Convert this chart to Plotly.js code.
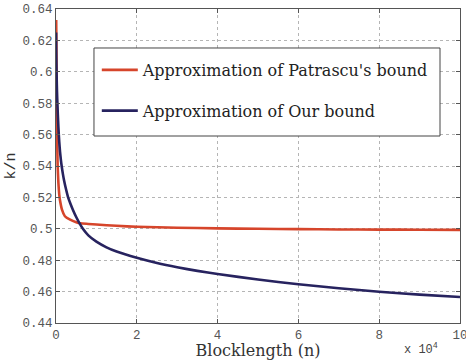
<!DOCTYPE html>
<html>
<head>
<meta charset="utf-8">
<script src="https://cdn.plot.ly/plotly-3.0.1.min.js"></script>
<style>html,body{margin:0;padding:0;background:#fff;}#chart{width:466px;height:360px;}</style>
</head>
<body>
<div id="chart"></div>
<script>
// x values in units of 10^4
var redX = [0.005, 0.01, 0.015, 0.02, 0.03, 0.04, 0.06, 0.08, 0.1, 0.15, 0.22, 0.35, 0.5, 0.6, 0.8, 1, 1.5, 2, 3, 4, 5, 6, 7, 8, 9, 10];
var redY = [0.633, 0.615, 0.595, 0.578, 0.556, 0.541, 0.529, 0.522, 0.518, 0.512, 0.508, 0.5058, 0.5042, 0.5035, 0.5031, 0.5027, 0.5019, 0.5013, 0.5007, 0.5003, 0.5, 0.4998, 0.4996, 0.4995, 0.4994, 0.4993];

var blueX = [0.002, 0.005, 0.01, 0.02, 0.03, 0.045, 0.06, 0.08, 0.1, 0.12, 0.14, 0.17, 0.2, 0.25, 0.3, 0.36, 0.42, 0.5, 0.58, 0.67, 0.8, 1, 1.25, 1.5, 2, 2.5, 3, 3.5, 4, 5, 6, 7, 8, 9, 10];
var blueY = [0.625, 0.614, 0.605, 0.592, 0.583, 0.573, 0.5645, 0.5555, 0.549, 0.544, 0.54, 0.535, 0.5308, 0.525, 0.52, 0.5158, 0.512, 0.5075, 0.5036, 0.4998, 0.4958, 0.4918, 0.4882, 0.4855, 0.4815, 0.4782, 0.4755, 0.4732, 0.4712, 0.4677, 0.4647, 0.4621, 0.4599, 0.4581, 0.4566];

var seriesNames = ["Approximation of Patrascu's bound", "Approximation of Our bound"];
var xTicks = [0, 2, 4, 6, 8, 10];
var xTickText = ["0", "2", "4", "6", "8", "10"];
var yTicks = [0.44, 0.46, 0.48, 0.5, 0.52, 0.54, 0.56, 0.58, 0.6, 0.62, 0.64];
var yTickText = ["0.44", "0.46", "0.48", "0.5", "0.52", "0.54", "0.56", "0.58", "0.6", "0.62", "0.64"];

var MONO = 'Liberation Mono';
var SERIF = 'DejaVu Serif';

var traces = [
  {x: redX, y: redY, type: 'scatter', mode: 'lines', name: seriesNames[0], legendgroup: 'a',
   line: {color: '#d6452b', width: 2.6, shape: 'spline', smoothing: 0.6}},
  {x: blueX, y: blueY, type: 'scatter', mode: 'lines', name: seriesNames[1], legendgroup: 'b',
   line: {color: '#27235f', width: 2.6, shape: 'spline', smoothing: 0.6}}
];

var tickFont = {family: MONO, size: 12.5, color: '#555'};
var axisCommon = {
  showline: true, linecolor: '#555', linewidth: 1, mirror: 'ticks',
  ticks: 'inside', ticklen: 4, tickcolor: '#555', tickwidth: 1,
  showgrid: true, gridcolor: '#b5b5b5', gridwidth: 1, griddash: 'dot',
  zeroline: false, tickfont: tickFont, tickmode: 'array', ticklabeloverflow: 'allow'
};

var layout = {
  width: 466, height: 360,
  margin: {l: 56, r: 6, t: 9, b: 37},
  paper_bgcolor: '#fff', plot_bgcolor: '#fff',
  showlegend: true,
  xaxis: Object.assign({}, axisCommon, {
    range: [0, 10], tickvals: xTicks, ticktext: xTickText,
    title: {text: 'Blocklength (n)', font: {family: SERIF, size: 16, color: '#333'}, standoff: 1}
  }),
  yaxis: Object.assign({}, axisCommon, {
    range: [0.44, 0.64], tickvals: yTicks, ticktext: yTickText,
    title: {text: 'k/n', font: {family: MONO, size: 15, color: '#333'}, standoff: 3}
  }),
  shapes: [{
    type: 'rect', xref: 'paper', yref: 'paper', layer: 'above',
    x0: 0.094, x1: 0.9505, y0: 0.5955, y1: 0.8758,
    fillcolor: '#fff', line: {color: '#444', width: 1}
  }],
  legend: {
    x: 0.101, y: 0.86, xanchor: 'left', yanchor: 'top',
    bgcolor: 'rgba(0,0,0,0)', borderwidth: 0,
    font: {family: SERIF, size: 16, color: '#222'},
    traceorder: 'grouped', tracegroupgap: 17, itemwidth: 36
  },
  annotations: [{
    xref: 'paper', yref: 'paper', x: 0.95, y: -0.115, xanchor: 'right', yanchor: 'bottom',
    text: 'x 10<sup>4</sup>', showarrow: false,
    font: {family: MONO, size: 12, color: '#444'}
  }]
};

Plotly.newPlot('chart', traces, layout, {displayModeBar: false, staticPlot: true});
</script>
</body>
</html>
